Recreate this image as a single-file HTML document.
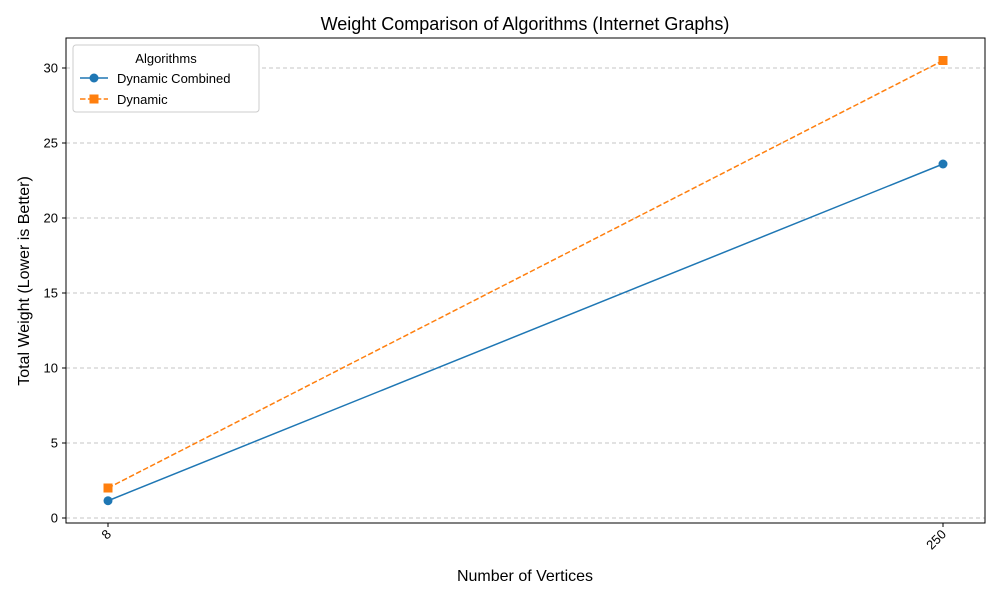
<!DOCTYPE html>
<html><head><meta charset="utf-8"><style>
body{margin:0;background:#fff;font-family:"Liberation Sans","DejaVu Sans",sans-serif}
text{font-family:"Liberation Sans","DejaVu Sans",sans-serif}
</style></head><body>
<svg id="chart" width="1000" height="600" viewBox="0 0 1000 600">
<rect width="1000" height="600" fill="#fff"/>
<text x="525" y="30" text-anchor="middle" font-size="18">Weight Comparison of Algorithms (Internet Graphs)</text>
<g id="grid"></g><g id="axes"></g><g id="series"></g>
<text x="525" y="581" text-anchor="middle" font-size="16">Number of Vertices</text>
<text transform="translate(29,281) rotate(-90)" text-anchor="middle" font-size="16">Total Weight (Lower is Better)</text>
<g>
<rect x="73" y="45" width="186" height="67" rx="3" fill="#fff" stroke="#ccc"/>
<text x="166" y="63" text-anchor="middle" font-size="13">Algorithms</text>
<g>
<line x1="80" y1="78" x2="108" y2="78" stroke="#1f77b4" stroke-width="1.5"/><circle cx="94" cy="78" r="4.5" fill="#1f77b4"/>
<text x="117" y="83" font-size="13">Dynamic Combined</text></g>
<g>
<line x1="80" y1="99" x2="108" y2="99" stroke="#ff7f0e" stroke-width="1.5" stroke-dasharray="5.5,2.4"/><rect x="89.5" y="94.5" width="9" height="9" fill="#ff7f0e"/>
<text x="117" y="104" font-size="13">Dynamic</text></g>
</g>
</svg>
<script>
const categories=["8","250"];
const dynamicCombined=[1.15,23.6];
const dynamic=[2.0,30.5];
const yTicks=[0,5,10,15,20,25,30];
const NS="http://www.w3.org/2000/svg";
const L=66,R=985,T=38,B=523;
const xPos=i=>108+i*(943-108)/(categories.length-1);
const yPos=v=>518-v*15;
function mk(tag,attrs,parent){const e=document.createElementNS(NS,tag);for(const k in attrs)e.setAttribute(k,attrs[k]);parent.appendChild(e);return e;}
const grid=document.getElementById('grid'),axes=document.getElementById('axes'),series=document.getElementById('series');
yTicks.forEach(v=>{const y=yPos(v);
const g=mk('line',{x1:L,x2:R,y1:y,y2:y,stroke:'#c4c4c4','stroke-width':0.9,'stroke-dasharray':'4,3'},grid);


mk('line',{x1:L-4,x2:L,y1:y,y2:y,stroke:'#000'},axes);
const t=mk('text',{x:L-8,y:y+4.5,'text-anchor':'end','font-size':13},axes);t.textContent=v;

});
const fr=mk('rect',{x:L,y:T,width:R-L,height:B-T,fill:'none',stroke:'#000','stroke-width':1},axes);


categories.forEach((c,i)=>{const x=xPos(i);
mk('line',{x1:x,x2:x,y1:B,y2:B+4,stroke:'#000'},axes);
const t=mk('text',{transform:`translate(${x+4},${B+12}) rotate(-45)`,'text-anchor':'end','font-size':13},axes);t.textContent=c;

});
function draw(vals,color,dash,marker,name){
const p=mk('polyline',{points:vals.map((v,i)=>xPos(i)+','+yPos(v)).join(' '),fill:'none',stroke:color,'stroke-width':1.5,'stroke-dasharray':dash},series);


vals.forEach((v,i)=>{let m;
if(marker==='c')m=mk('circle',{cx:xPos(i),cy:yPos(v),r:4.5,fill:color},series);
else m=mk('rect',{x:xPos(i)-4.5,y:yPos(v)-4.5,width:9,height:9,fill:color},series);

});}
draw(dynamicCombined,'#1f77b4','none','c','dynamic-combined');
draw(dynamic,'#ff7f0e','5.5,2.4','s','dynamic');
</script>
</body></html>
